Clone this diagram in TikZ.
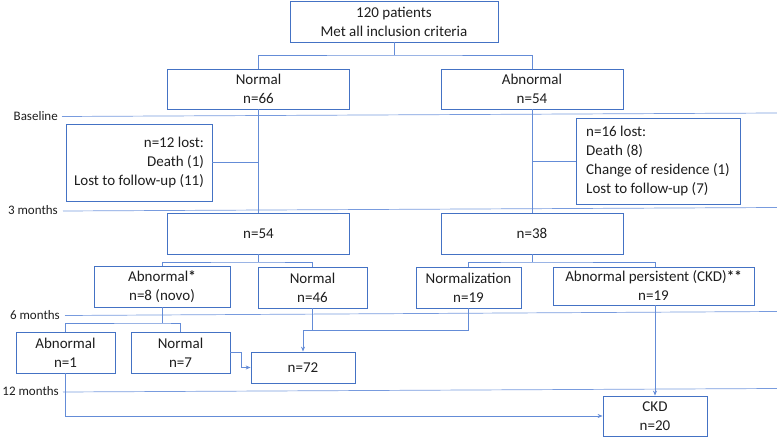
\documentclass[tikz,border=0pt]{standalone}
\usepackage{fontspec}
\setmainfont{Carlito}
\usetikzlibrary{arrows.meta}
\definecolor{boxblue}{RGB}{68,114,196}
\definecolor{lineblue}{RGB}{100,140,215}
\definecolor{tline}{RGB}{120,155,222}
\definecolor{txt}{RGB}{30,30,30}
\begin{document}
\begin{tikzpicture}[x=1pt,y=-1pt,
  box/.style={draw=boxblue,line width=0.8pt,inner sep=0pt,align=center,text=txt,
    font=\fontsize{15}{19}\selectfont},
  conn/.style={draw=lineblue,line width=0.8pt},
  arr/.style={conn,-{Stealth[length=5pt,width=4pt]}},
  tl/.style={draw=tline,line width=0.7pt},
  tlab/.style={anchor=east,text=txt,inner sep=0pt,font=\fontsize{13}{15}\selectfont}]
\useasboundingbox (0,0) rectangle (777,438);

% time lines
\node[tlab] (lb0) at (58,116) {Baseline};
\node[tlab] (lb1) at (58,210.5) {3 months};
\node[tlab] (lb2) at (60,315) {6 months};
\node[tlab] (lb3) at (59,391.5) {12 months};
\draw[tl] (62,116.5) -- (777,113);
\draw[tl] (63,211) -- (777,207.5);
\draw[tl] (65,315.5) -- (777,311.5);
\draw[tl] (63,392) -- (777,388.5);

% boxes
\node[box,minimum width=208,minimum height=41] (top) at (394,21.5) {120 patients\\Met all inclusion criteria};
\node[box,minimum width=182,minimum height=40] (norm) at (258.5,89) {Normal\\n=66};
\node[box,minimum width=182,minimum height=40] (abn) at (532,89) {Abnormal\\n=54};
\node[box,minimum width=146,minimum height=77,align=right] (lostL) at (139,162.5) {n=12 lost:\\Death (1)\\Lost to follow-up (11)};
\node[box,minimum width=164,minimum height=86,align=left] (lostR) at (658,161) {n=16 lost:\\Death (8)\\Change of residence (1)\\Lost to follow-up (7)};
\node[box,minimum width=182,minimum height=41] (n54) at (258.5,233.5) {n=54};
\node[box,minimum width=182,minimum height=41] (n38) at (532,233.5) {n=38};
\node[box,minimum width=136,minimum height=41] (abs) at (162,286.5) {Abnormal\textbf{*}\\n=8 (novo)};
\node[box,minimum width=109,minimum height=41] (n46) at (312.5,287.5) {Normal\\n=46};
\node[box,minimum width=105,minimum height=41] (nz) at (468.5,287.5) {Normalization\\n=19};
\node[box,minimum width=201,minimum height=38] (ap) at (653.5,286) {Abnormal persistent (CKD)\textbf{**}\\n=19};
\node[box,minimum width=99,minimum height=41] (a1) at (65.5,352.5) {Abnormal\\n=1};
\node[box,minimum width=99,minimum height=41] (n7) at (180.5,352.5) {Normal\\n=7};
\node[box,minimum width=104,minimum height=31] (n72) at (303,367.5) {n=72};
\node[box,minimum width=104,minimum height=40] (ckd) at (655,416) {CKD\\n=20};

% connectors
\coordinate (j0) at (394,55);
\draw[conn] (top.south) -- (j0);
\draw[conn] (norm.north) |- (j0) -| (abn.north);
\draw[conn] (norm.south) -- (n54.north);
\draw[conn] (abn.south) -- (n38.north);
\draw[conn] (lostL.east) -- (lostL.east -| norm.south);
\draw[conn] (lostR.west) -- (lostR.west -| abn.south);

\coordinate (j1) at (258.5,262);
\draw[conn] (n54.south) -- (j1);
\draw[conn] (abs.north) |- (j1) -| (n46.north);
\coordinate (j2) at (532,262);
\draw[conn] (n38.south) -- (j2);
\draw[conn] (nz.north) |- (j2) -| (ckd.north |- ap.north);

\coordinate (j3) at (162,323);
\draw[conn] (abs.south) -- (j3);
\draw[conn] (a1.north) |- (j3) -| (n7.north);

\coordinate (j4) at (303,330);
\draw[conn] (n46.south) -- (n46.south |- j4);
\draw[arr] (nz.south) |- (j4) -- (n72.north);
\draw[arr] (n7.east) -- ++(11,0) |- (n72.west);

\draw[arr] (ckd.north |- ap.south) -- (ckd.north);
\draw[arr] (a1.south) |- (ckd.west);
\end{tikzpicture}
\end{document}
